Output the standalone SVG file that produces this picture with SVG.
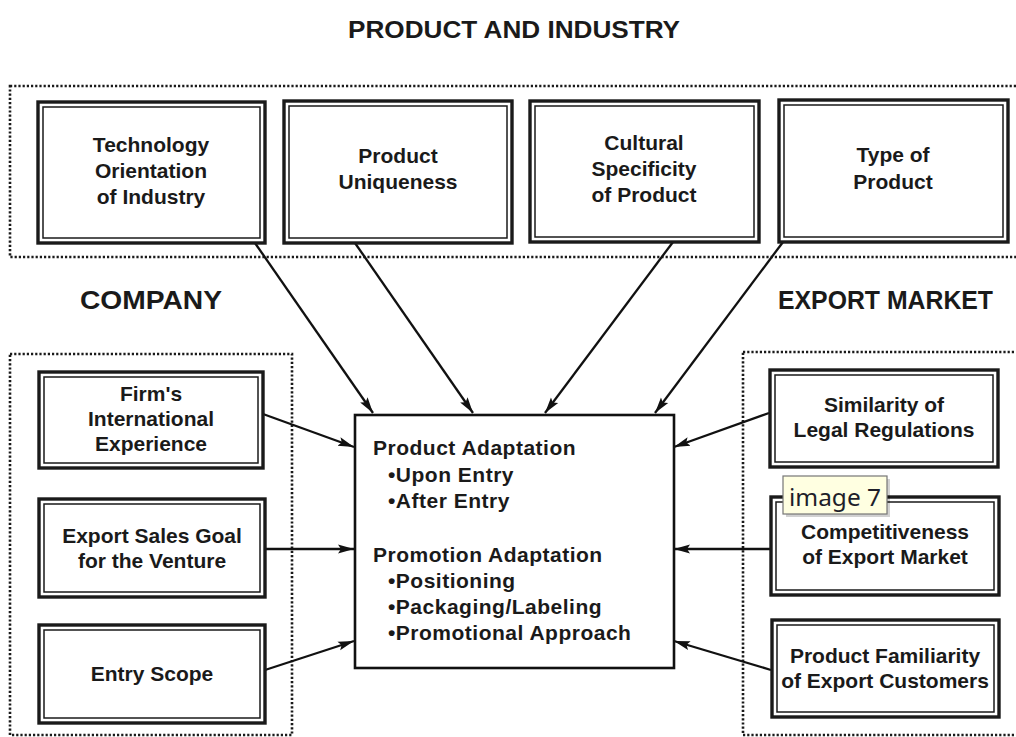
<svg xmlns="http://www.w3.org/2000/svg" width="1016" height="737" viewBox="0 0 1016 737">
  <defs>
    <marker id="arrow" markerUnits="userSpaceOnUse" markerWidth="17" markerHeight="11" refX="16" refY="5.5" orient="auto">
      <path d="M0,1 L16,5.5 L0,10 L3,5.5 Z" fill="#111"/>
    </marker>
    <style>
      .group { fill: none; stroke: #1a1a1a; stroke-width: 2.6; stroke-dasharray: 2.2 2; }
      .outer { fill: #fff; stroke: #1a1a1a; stroke-width: 3.4; }
      .inner { fill: none; stroke: #1a1a1a; stroke-width: 1.5; }
      .center { fill: #fff; stroke: #111; stroke-width: 2.6; }
      .label { font-family: "Liberation Sans", Arial, sans-serif; font-weight: bold; font-size: 21px; fill: #1a1a1a; text-anchor: middle; }
      .body { font-family: "Liberation Sans", Arial, sans-serif; font-weight: bold; font-size: 21px; fill: #1a1a1a; letter-spacing: 0.5px; }
      .heading { font-family: "Liberation Sans", Arial, sans-serif; font-weight: bold; fill: #1a1a1a; }
      .wire { stroke: #111; stroke-width: 2.3; fill: none; marker-end: url(#arrow); }
      .tip { font-family: "Noto Sans", "DejaVu Sans", sans-serif; font-size: 23px; fill: #1e1e2a; }
    </style>
  </defs>

  <rect width="1016" height="737" fill="#fff"/>

  <!-- section headings -->
  <text class="heading" x="348" y="38" font-size="24" textLength="332" lengthAdjust="spacingAndGlyphs">PRODUCT AND INDUSTRY</text>
  <text class="heading" x="80" y="309" font-size="25" textLength="142" lengthAdjust="spacingAndGlyphs">COMPANY</text>
  <text class="heading" x="778" y="309" font-size="25" textLength="215" lengthAdjust="spacingAndGlyphs">EXPORT MARKET</text>

  <!-- dotted grouping frames -->
  <g id="frames">
    <rect class="group" x="10" y="86" width="1012" height="171"/>
    <rect class="group" x="10" y="354" width="282" height="381"/>
    <rect class="group" x="743" y="352" width="280" height="383"/>
  </g>

  <!-- connectors -->
  <g id="connectors">
    <line class="wire" x1="255" y1="243" x2="373" y2="413"/>
    <line class="wire" x1="355" y1="243" x2="473" y2="413"/>
    <line class="wire" x1="673" y1="242" x2="545" y2="413"/>
    <line class="wire" x1="783" y1="242" x2="655" y2="413"/>
    <line class="wire" x1="263" y1="414" x2="354" y2="447"/>
    <line class="wire" x1="265" y1="549" x2="354" y2="549"/>
    <line class="wire" x1="265" y1="670" x2="354" y2="641"/>
    <line class="wire" x1="769" y1="413" x2="674" y2="447"/>
    <line class="wire" x1="770" y1="549" x2="674" y2="549"/>
    <line class="wire" x1="771" y1="670" x2="674" y2="641"/>
  </g>

  <!-- product and industry factors -->
  <g id="technology">
    <rect class="outer" x="38" y="102" width="227" height="141"/>
    <rect class="inner" x="43" y="107" width="217" height="131"/>
    <text class="label" x="151" y="152">Technology</text>
    <text class="label" x="151" y="178">Orientation</text>
    <text class="label" x="151" y="204">of Industry</text>
  </g>
  <g id="uniqueness">
    <rect class="outer" x="284" y="101" width="228" height="142"/>
    <rect class="inner" x="289" y="106" width="218" height="132"/>
    <text class="label" x="398" y="163">Product</text>
    <text class="label" x="398" y="189">Uniqueness</text>
  </g>
  <g id="cultural">
    <rect class="outer" x="530" y="101" width="229" height="141"/>
    <rect class="inner" x="535" y="106" width="219" height="131"/>
    <text class="label" x="644" y="150">Cultural</text>
    <text class="label" x="644" y="176">Specificity</text>
    <text class="label" x="644" y="202">of Product</text>
  </g>
  <g id="type">
    <rect class="outer" x="779" y="100" width="229" height="142"/>
    <rect class="inner" x="784" y="105" width="219" height="132"/>
    <text class="label" x="893" y="162">Type of</text>
    <text class="label" x="893" y="189">Product</text>
  </g>

  <!-- company factors -->
  <g id="experience">
    <rect class="outer" x="39" y="372" width="224" height="96"/>
    <rect class="inner" x="44" y="377" width="214" height="86"/>
    <text class="label" x="151" y="401">Firm's</text>
    <text class="label" x="151" y="426">International</text>
    <text class="label" x="151" y="451">Experience</text>
  </g>
  <g id="sales-goal">
    <rect class="outer" x="39" y="499" width="226" height="98"/>
    <rect class="inner" x="44" y="504" width="216" height="88"/>
    <text class="label" x="152" y="543">Export Sales Goal</text>
    <text class="label" x="152" y="568">for the Venture</text>
  </g>
  <g id="entry-scope">
    <rect class="outer" x="39" y="625" width="226" height="98"/>
    <rect class="inner" x="44" y="630" width="216" height="88"/>
    <text class="label" x="152" y="681">Entry Scope</text>
  </g>

  <!-- export market factors -->
  <g id="legal">
    <rect class="outer" x="770" y="370" width="228" height="97"/>
    <rect class="inner" x="775" y="375" width="218" height="87"/>
    <text class="label" x="884" y="412">Similarity of</text>
    <text class="label" x="884" y="437">Legal Regulations</text>
  </g>
  <g id="competitiveness">
    <rect class="outer" x="771" y="497" width="228" height="98"/>
    <rect class="inner" x="776" y="502" width="218" height="88"/>
    <text class="label" x="885" y="539">Competitiveness</text>
    <text class="label" x="885" y="564">of Export Market</text>
  </g>
  <g id="familiarity">
    <rect class="outer" x="772" y="620" width="227" height="97"/>
    <rect class="inner" x="777" y="625" width="217" height="87"/>
    <text class="label" x="885" y="663">Product Familiarity</text>
    <text class="label" x="885" y="688">of Export Customers</text>
  </g>

  <!-- adaptation outcome -->
  <g id="adaptation">
    <rect class="center" x="355" y="415" width="319" height="253"/>
    <text class="body" x="373" y="455">Product Adaptation</text>
    <text class="body" x="388" y="482">•Upon Entry</text>
    <text class="body" x="388" y="508">•After Entry</text>
    <text class="body" x="373" y="562">Promotion Adaptation</text>
    <text class="body" x="388" y="588">•Positioning</text>
    <text class="body" x="388" y="614">•Packaging/Labeling</text>
    <text class="body" x="388" y="640">•Promotional Approach</text>
  </g>

  <!-- hover caption -->
  <g id="caption">
    <rect x="786" y="479" width="104" height="38" fill="#000" opacity="0.18"/>
    <rect x="783" y="476" width="104" height="38" fill="#ffffe1" stroke="#767676" stroke-width="1.2"/>
    <text class="tip" x="789" y="506" textLength="92" lengthAdjust="spacingAndGlyphs">image 7</text>
  </g>
</svg>
